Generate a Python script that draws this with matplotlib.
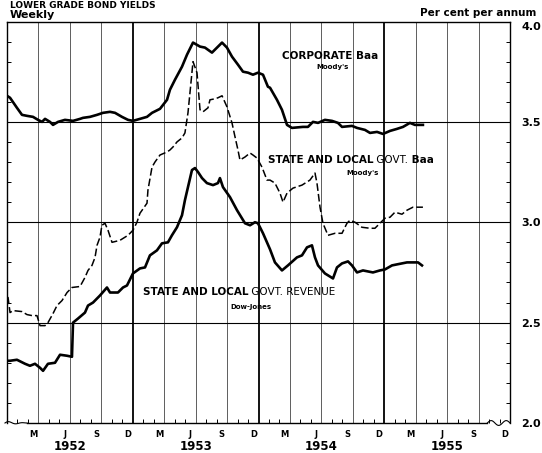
import numpy as np
import matplotlib
matplotlib.use("Agg")
import matplotlib.pyplot as plt
from matplotlib.transforms import blended_transform_factory

# x = months since 1 Jan 1952, y = per cent per annum (traced weekly curves)
corp_months = [0.0, 0.29, 0.95, 1.43, 1.91, 2.48, 2.96, 3.34, 3.63, 4.10, 4.39, 4.87,
               5.53, 6.30, 6.97, 7.25, 7.92, 8.59, 9.16, 9.83, 10.31, 10.97, 11.55,
               12.02, 12.69, 13.36, 13.84, 14.60, 15.27, 15.55, 16.03, 16.70, 17.18,
               17.75, 18.42, 18.89, 19.56, 20.04, 20.52, 20.99, 21.47, 22.04, 22.52,
               23.00, 23.47, 23.95, 24.43, 24.90, 25.10, 25.76, 26.24, 26.72, 27.19,
               28.24, 28.72, 29.20, 29.68, 30.34, 31.01, 31.58, 31.97, 32.92, 33.40,
               34.16, 34.64, 35.31, 35.88, 36.55, 37.21, 37.79, 38.45, 38.93, 39.69]
corp_baa = [3.63, 3.62, 3.57, 3.535, 3.53, 3.525, 3.51, 3.50, 3.515, 3.50, 3.485, 3.50,
            3.51, 3.505, 3.515, 3.52, 3.525, 3.535, 3.545, 3.55, 3.545, 3.525, 3.51,
            3.505, 3.515, 3.525, 3.545, 3.565, 3.61, 3.66, 3.71, 3.775, 3.835,
            3.895, 3.875, 3.87, 3.845, 3.87, 3.895, 3.87, 3.825, 3.785, 3.75,
            3.745, 3.735, 3.745, 3.735, 3.675, 3.67, 3.61, 3.56, 3.485, 3.47,
            3.475, 3.475, 3.50, 3.495, 3.51, 3.505, 3.495, 3.475, 3.48, 3.47,
            3.46, 3.445, 3.45, 3.44, 3.455, 3.465, 3.475, 3.495, 3.485, 3.485]

sl_months = [0.0, 0.1, 0.29, 0.57, 1.43, 1.91, 2.39, 2.86, 3.15, 3.63, 3.91, 4.39,
             4.77, 5.25, 5.73, 6.20, 6.97, 7.44, 7.73, 8.11, 8.40, 8.59, 8.87, 9.06,
             9.35, 9.64, 10.02, 10.78, 11.55, 12.02, 12.40, 12.69, 13.36, 13.45,
             13.84, 14.12, 14.60, 15.27, 15.55, 15.84, 16.22, 16.70, 16.98, 17.27,
             17.46, 17.75, 18.13, 18.42, 18.70, 19.18, 19.37, 19.85, 20.13, 20.52,
             20.99, 21.47, 21.76, 22.04, 22.23, 22.71, 23.19, 23.47, 23.85, 24.33,
             24.81, 25.10, 25.57, 26.05, 26.34, 26.72, 27.29, 28.15, 28.91, 29.39,
             29.58, 29.87, 30.15, 30.63, 31.30, 31.97, 32.44, 32.73, 33.21, 33.87,
             34.64, 35.11, 35.59, 36.07, 36.55, 37.02, 37.69, 38.17, 38.74, 39.69]
sl_baa = [2.625, 2.625, 2.55, 2.56, 2.555, 2.54, 2.535, 2.535, 2.485, 2.485, 2.50, 2.545,
          2.585, 2.61, 2.65, 2.675, 2.68, 2.725, 2.76, 2.785, 2.825, 2.885, 2.925, 2.985,
          2.995, 2.96, 2.90, 2.91, 2.935, 2.96, 3.00, 3.045, 3.095, 3.16,
          3.275, 3.30, 3.335, 3.35, 3.36, 3.375, 3.40, 3.42, 3.445, 3.545,
          3.645, 3.80, 3.745, 3.56, 3.55, 3.57, 3.61, 3.615, 3.62, 3.63,
          3.575, 3.495, 3.425, 3.36, 3.31, 3.325, 3.345, 3.335, 3.32, 3.275,
          3.21, 3.21, 3.195, 3.145, 3.10, 3.145, 3.17, 3.185, 3.21, 3.245,
          3.195, 3.075, 2.995, 2.935, 2.945, 2.945, 2.995, 3.01, 3.00, 2.975,
          2.97, 2.97, 2.995, 3.02, 3.025, 3.05, 3.04, 3.06, 3.075, 3.075]

rev_months = [0.0, 0.29, 0.95, 1.72, 2.19, 2.67, 3.15, 3.44, 3.91, 4.58, 5.06, 5.73,
              6.20, 6.30, 6.77, 7.44, 7.73, 8.21, 8.87, 9.54, 9.83, 10.59, 11.07, 11.45,
              12.02, 12.69, 13.17, 13.64, 14.31, 14.79, 15.36, 15.74, 16.22, 16.70,
              16.98, 17.27, 17.65, 17.94, 18.23, 18.61, 19.08, 19.66, 20.13, 20.32,
              20.61, 21.28, 21.95, 22.71, 23.19, 23.66, 23.95, 24.43, 25.10, 25.57,
              26.24, 26.81, 27.67, 28.15, 28.63, 29.10, 29.39, 29.68, 30.34, 31.11,
              31.49, 31.97, 32.54, 32.92, 33.40, 33.97, 34.92, 35.59, 36.07, 36.74,
              37.21, 38.17, 39.22, 39.60]
sl_revenue = [2.31, 2.31, 2.315, 2.295, 2.285, 2.295, 2.275, 2.26, 2.295, 2.30, 2.34, 2.335,
              2.33, 2.50, 2.52, 2.55, 2.585, 2.60, 2.635, 2.675, 2.65, 2.65, 2.675, 2.685,
              2.745, 2.77, 2.775, 2.835, 2.86, 2.895, 2.90, 2.935, 2.975, 3.035,
              3.11, 3.175, 3.26, 3.27, 3.25, 3.22, 3.195, 3.185, 3.195, 3.22,
              3.175, 3.125, 3.06, 2.995, 2.985, 3.00, 2.995, 2.945, 2.865, 2.80,
              2.76, 2.785, 2.825, 2.835, 2.875, 2.885, 2.825, 2.785, 2.745, 2.72,
              2.775, 2.795, 2.805, 2.785, 2.75, 2.76, 2.75, 2.76, 2.765, 2.785,
              2.79, 2.80, 2.80, 2.785]

years = ["1952", "1953", "1954", "1955"]
month_letters = ["M", "J", "S", "D"]
y_labels = ["2.0", "2.5", "3.0", "3.5", "4.0"]

fig = plt.figure(figsize=(5.42, 4.53), dpi=100)
ax = fig.add_axes([7 / 542, 1 - 423 / 453, 503 / 542, 401.5 / 453])
ax.set_xlim(0, 48)
ax.set_ylim(2.0, 4.0)

# grid: quarter lines, heavier at year ends; horizontal at half points
for q in range(3, 48, 3):
    heavy = q % 12 == 0
    ax.axvline(q, color="black" if heavy else "#444444", lw=1.3 if heavy else 0.6, zorder=1)
for v in (2.5, 3.0, 3.5):
    ax.axhline(v, color="black", lw=0.8, zorder=1)

ax.plot(corp_months, corp_baa, color="black", lw=1.9, solid_joinstyle="round", zorder=3)
ax.plot(sl_months, sl_baa, color="black", lw=1.1, dashes=(5, 2), zorder=3)
ax.plot(rev_months, sl_revenue, color="black", lw=1.9, solid_joinstyle="round", zorder=3)

# axes frame; bottom drawn by hand with break marks at both ends
for s in ("left", "right", "top"):
    ax.spines[s].set_linewidth(1.0)
ax.spines["bottom"].set_visible(False)
ax.plot([0.04, 0.955], [0, 0], transform=ax.transAxes, color="black", lw=1.0, clip_on=False)
wx = np.linspace(0, 1, 40)
ax.plot(-0.004 + 0.044 * wx, 0.004 * np.sin(wx * 2 * np.pi * 1.5) * (1 - wx),
        transform=ax.transAxes, color="black", lw=0.8, clip_on=False)
ax.plot(0.955 + 0.045 * wx, 0.006 * np.sin(wx * 2 * np.pi * 1.5),
        transform=ax.transAxes, color="black", lw=0.8, clip_on=False)

# y ticks on the right, minor ticks on both spines
ax.yaxis.tick_right()
ax.set_yticks([2.0, 2.5, 3.0, 3.5, 4.0])
ax.set_yticklabels(y_labels, fontsize=8, fontweight="bold")
ax.get_yticklabels()[-1].set_va("top")
ax.set_yticks(np.arange(2.1, 4.0, 0.1), minor=True)
ax.tick_params(axis="y", which="major", length=0, pad=8)
ax.tick_params(axis="y", which="minor", direction="in", length=3, width=0.7,
               left=True, right=True)

# x: month ticks and labels
ax.set_xticks([m + 12 * k + 0.5 for k in range(4) for m in (2, 5, 8, 11)])
ax.set_xticklabels(month_letters * 4, fontsize=6, fontweight="bold")
ax.set_xticks([m for m in range(1, 48) if m % 3], minor=True)
ax.tick_params(axis="x", which="major", length=0, pad=5)
ax.tick_params(axis="x", which="minor", direction="in", length=3, width=0.7)

tr = blended_transform_factory(ax.transData, fig.transFigure)
for k, yr in enumerate(years):
    ax.text(12 * k + 6, 1 - 447 / 453, yr, transform=tr, ha="center", va="center",
            fontsize=8.5, fontweight="bold")

# header texts
fig.text(10 / 542, 1 - 0.5 / 453, "LOWER GRADE BOND YIELDS", fontsize=6.5, fontweight="bold",
         ha="left", va="top")
fig.text(10 / 542, 1 - 14.5 / 453, "Weekly", fontsize=8, fontweight="bold", ha="left", va="center")
fig.text(536 / 542, 1 - 13 / 453, "Per cent per annum", fontsize=7.5, fontweight="bold",
         ha="right", va="center")


def series_label(x, y, parts, sub, sub_x, sub_y):
    t = ax.text(x, y, parts[0][0], fontsize=7.5, fontweight=parts[0][1], ha="left",
                va="center", zorder=4)
    for txt, w in parts[1:]:
        t = ax.annotate(txt, xy=(1, 0), xycoords=t, fontsize=7.5, fontweight=w,
                        ha="left", va="bottom", zorder=4)
    ax.text(sub_x, sub_y, sub, fontsize=5, fontweight="bold", ha="center", va="center", zorder=4)


series_label(26.2, 3.83, [("CORPORATE Baa", "bold")], "Moody's", 31.1, 3.775)
series_label(24.9, 3.31, [("STATE AND LOCAL", "bold"), (" GOVT.", "normal"), (" Baa", "bold")],
             "Moody's", 33.9, 3.245)
series_label(12.95, 2.655, [("STATE AND LOCAL", "bold"), (" GOVT. REVENUE", "normal")],
             "Dow-Jones", 23.3, 2.58)

fig.savefig("out.png", dpi=100)
